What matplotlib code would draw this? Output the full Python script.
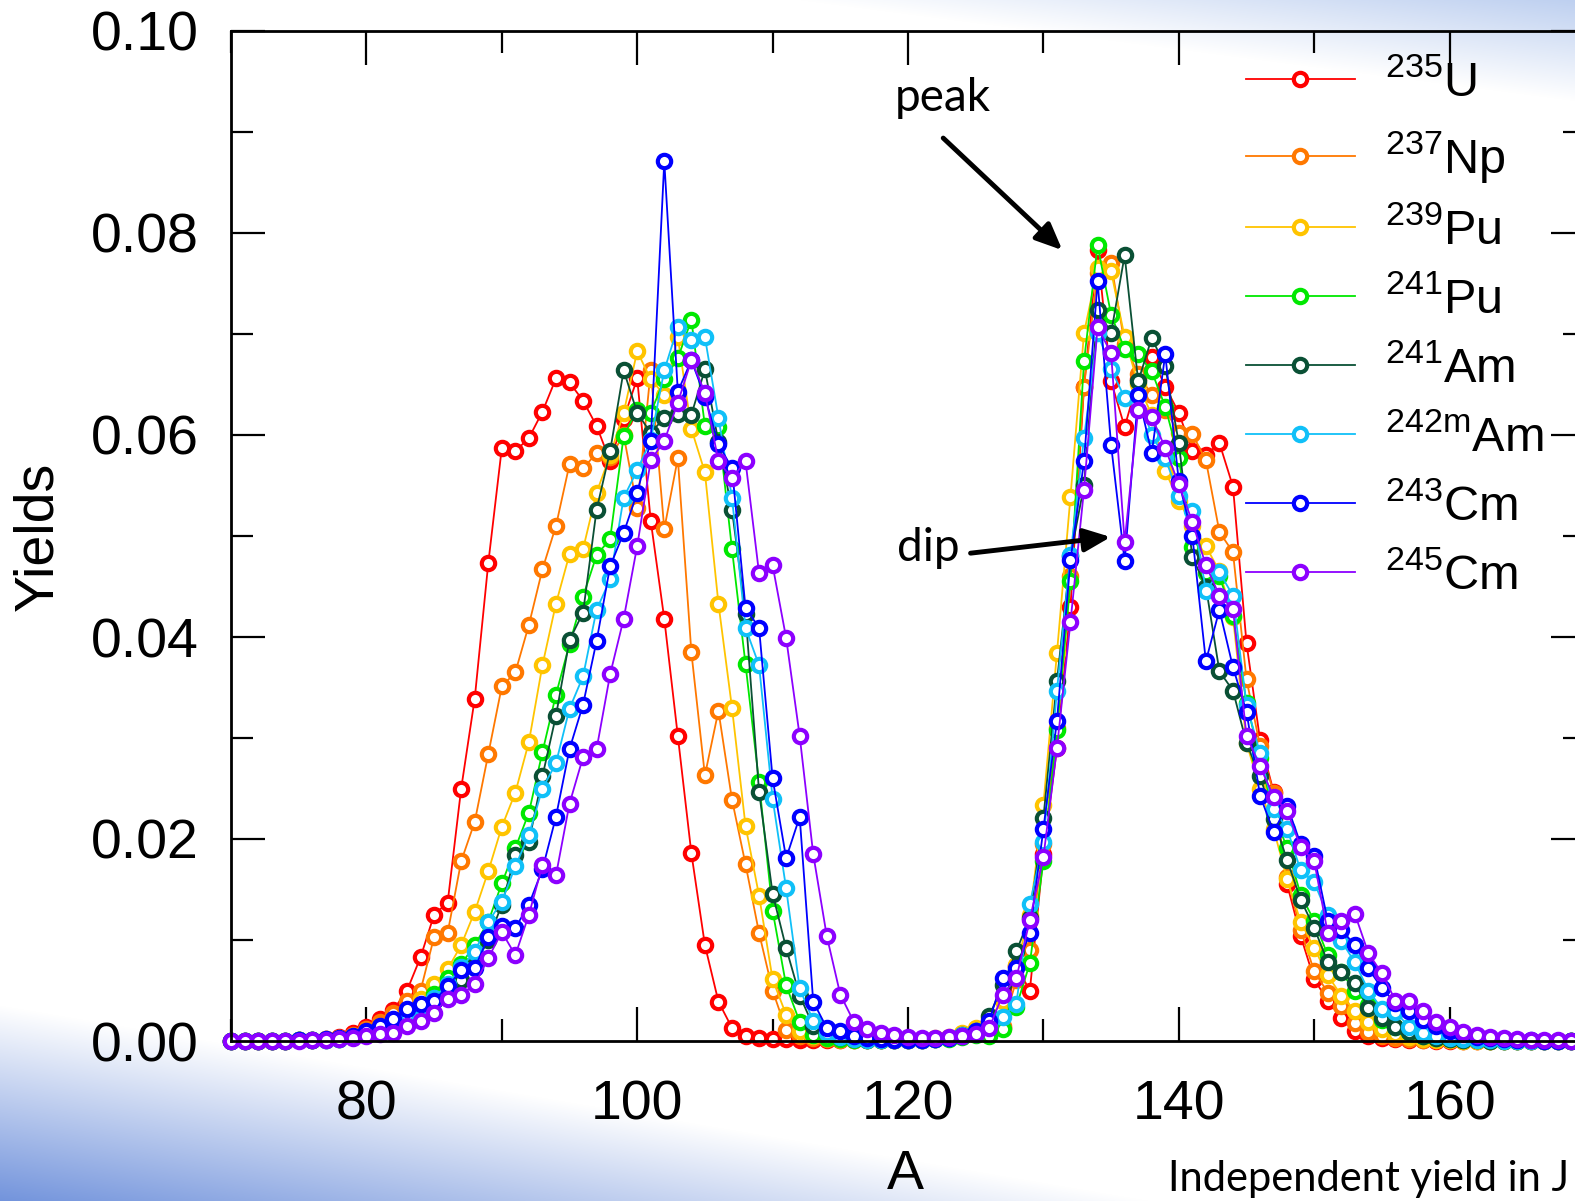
import numpy as np
import matplotlib
matplotlib.use("Agg")
import matplotlib.pyplot as plt
from matplotlib.ticker import MultipleLocator, FormatStrFormatter

plt.rcParams['font.family'] = ['Liberation Sans', 'DejaVu Sans']
plt.rcParams['mathtext.fontset'] = 'custom'
plt.rcParams['mathtext.rm'] = 'Liberation Sans'
plt.rcParams['mathtext.it'] = 'Liberation Sans:italic'
plt.rcParams['mathtext.bf'] = 'Liberation Sans:bold'

# ---------------- data ----------------
mass_number = list(range(70, 171))

u235 = [
    0.0000, 0.0000, 0.0000, 0.0000, 0.0000, 0.0001, 0.0001, 0.0002, 0.0004, 0.0008,
    0.0014, 0.0022, 0.0031, 0.0050, 0.0083, 0.0125, 0.0137, 0.0250, 0.0339, 0.0473,
    0.0587, 0.0584, 0.0597, 0.0623, 0.0656, 0.0652, 0.0634, 0.0609, 0.0574, 0.0616,
    0.0656, 0.0515, 0.0418, 0.0302, 0.0186, 0.0095, 0.0039, 0.0013, 0.0005, 0.0003,
    0.0002, 0.0002, 0.0001, 0.0001, 0.0001, 0.0001, 0.0001, 0.0001, 0.0001, 0.0001,
    0.0001, 0.0001, 0.0002, 0.0003, 0.0005, 0.0008, 0.0012, 0.0013, 0.0074, 0.0050,
    0.0185, 0.0290, 0.0430, 0.0648, 0.0783, 0.0653, 0.0608, 0.0655, 0.0677, 0.0648,
    0.0622, 0.0584, 0.0580, 0.0592, 0.0549, 0.0394, 0.0298, 0.0247, 0.0155, 0.0104,
    0.0061, 0.0040, 0.0023, 0.0010, 0.0005, 0.0003, 0.0002, 0.0001, 0.0001, 0.0000,
    0.0000, 0.0000, 0.0000, 0.0000, 0.0000, 0.0000, 0.0000, 0.0000, 0.0000, 0.0000,
    0.0000,
]

np237 = [
    0.0000, 0.0000, 0.0000, 0.0000, 0.0000, 0.0001, 0.0001, 0.0002, 0.0003, 0.0006,
    0.0012, 0.0019, 0.0028, 0.0040, 0.0050, 0.0103, 0.0107, 0.0178, 0.0217, 0.0284,
    0.0351, 0.0365, 0.0412, 0.0467, 0.0510, 0.0571, 0.0567, 0.0582, 0.0578, 0.0600,
    0.0528, 0.0664, 0.0507, 0.0577, 0.0385, 0.0263, 0.0327, 0.0239, 0.0175, 0.0107,
    0.0050, 0.0011, 0.0005, 0.0003, 0.0002, 0.0001, 0.0001, 0.0001, 0.0001, 0.0001,
    0.0001, 0.0001, 0.0002, 0.0003, 0.0005, 0.0007, 0.0010, 0.0015, 0.0060, 0.0090,
    0.0195, 0.0310, 0.0460, 0.0648, 0.0760, 0.0770, 0.0690, 0.0660, 0.0640, 0.0625,
    0.0602, 0.0601, 0.0575, 0.0504, 0.0484, 0.0358, 0.0292, 0.0246, 0.0162, 0.0110,
    0.0069, 0.0048, 0.0035, 0.0018, 0.0009, 0.0005, 0.0003, 0.0002, 0.0001, 0.0001,
    0.0001, 0.0000, 0.0000, 0.0000, 0.0000, 0.0000, 0.0000, 0.0000, 0.0000, 0.0000,
    0.0000,
]

pu239 = [
    0.0000, 0.0000, 0.0000, 0.0000, 0.0000, 0.0001, 0.0001, 0.0002, 0.0003, 0.0005,
    0.0009, 0.0014, 0.0020, 0.0030, 0.0042, 0.0056, 0.0071, 0.0095, 0.0128, 0.0168,
    0.0212, 0.0246, 0.0296, 0.0372, 0.0433, 0.0482, 0.0487, 0.0543, 0.0580, 0.0622,
    0.0683, 0.0655, 0.0640, 0.0697, 0.0606, 0.0563, 0.0433, 0.0330, 0.0213, 0.0144,
    0.0061, 0.0026, 0.0010, 0.0005, 0.0003, 0.0002, 0.0001, 0.0001, 0.0001, 0.0001,
    0.0001, 0.0002, 0.0003, 0.0004, 0.0008, 0.0013, 0.0022, 0.0040, 0.0075, 0.0125,
    0.0234, 0.0384, 0.0539, 0.0701, 0.0765, 0.0762, 0.0697, 0.0650, 0.0620, 0.0564,
    0.0535, 0.0510, 0.0490, 0.0465, 0.0420, 0.0295, 0.0250, 0.0210, 0.0160, 0.0118,
    0.0092, 0.0065, 0.0045, 0.0030, 0.0019, 0.0012, 0.0007, 0.0004, 0.0002, 0.0001,
    0.0001, 0.0000, 0.0000, 0.0000, 0.0000, 0.0000, 0.0000, 0.0000, 0.0000, 0.0000,
    0.0000,
]

pu241 = [
    0.0000, 0.0000, 0.0000, 0.0000, 0.0000, 0.0001, 0.0001, 0.0001, 0.0002, 0.0004,
    0.0008, 0.0013, 0.0019, 0.0027, 0.0036, 0.0047, 0.0062, 0.0076, 0.0095, 0.0118,
    0.0156, 0.0191, 0.0226, 0.0286, 0.0343, 0.0393, 0.0440, 0.0481, 0.0497, 0.0599,
    0.0625, 0.0622, 0.0655, 0.0676, 0.0714, 0.0609, 0.0608, 0.0487, 0.0373, 0.0256,
    0.0129, 0.0055, 0.0019, 0.0006, 0.0003, 0.0002, 0.0001, 0.0001, 0.0001, 0.0001,
    0.0001, 0.0001, 0.0002, 0.0002, 0.0004, 0.0006, 0.0005, 0.0012, 0.0034, 0.0077,
    0.0178, 0.0308, 0.0455, 0.0673, 0.0788, 0.0719, 0.0685, 0.0680, 0.0663, 0.0628,
    0.0577, 0.0489, 0.0463, 0.0460, 0.0421, 0.0335, 0.0280, 0.0226, 0.0191, 0.0145,
    0.0119, 0.0085, 0.0068, 0.0050, 0.0036, 0.0021, 0.0014, 0.0009, 0.0005, 0.0003,
    0.0002, 0.0001, 0.0001, 0.0000, 0.0000, 0.0000, 0.0000, 0.0000, 0.0000, 0.0000,
    0.0000,
]

am241 = [
    0.0000, 0.0000, 0.0000, 0.0000, 0.0000, 0.0001, 0.0001, 0.0001, 0.0002, 0.0004,
    0.0007, 0.0012, 0.0018, 0.0025, 0.0033, 0.0040, 0.0047, 0.0060, 0.0075, 0.0100,
    0.0135, 0.0184, 0.0197, 0.0262, 0.0322, 0.0397, 0.0424, 0.0526, 0.0584, 0.0664,
    0.0622, 0.0602, 0.0617, 0.0621, 0.0620, 0.0665, 0.0593, 0.0526, 0.0423, 0.0247,
    0.0146, 0.0092, 0.0045, 0.0015, 0.0008, 0.0004, 0.0002, 0.0001, 0.0001, 0.0001,
    0.0001, 0.0001, 0.0002, 0.0003, 0.0006, 0.0010, 0.0025, 0.0055, 0.0089, 0.0122,
    0.0221, 0.0356, 0.0480, 0.0550, 0.0724, 0.0701, 0.0778, 0.0653, 0.0696, 0.0668,
    0.0592, 0.0479, 0.0450, 0.0366, 0.0347, 0.0295, 0.0262, 0.0220, 0.0179, 0.0140,
    0.0112, 0.0078, 0.0068, 0.0057, 0.0033, 0.0023, 0.0014, 0.0009, 0.0005, 0.0003,
    0.0002, 0.0001, 0.0001, 0.0000, 0.0000, 0.0000, 0.0000, 0.0000, 0.0000, 0.0000,
    0.0000,
]

am242m = [
    0.0000, 0.0000, 0.0000, 0.0000, 0.0000, 0.0001, 0.0001, 0.0001, 0.0002, 0.0004,
    0.0008, 0.0013, 0.0019, 0.0026, 0.0034, 0.0043, 0.0056, 0.0073, 0.0088, 0.0118,
    0.0138, 0.0173, 0.0204, 0.0250, 0.0275, 0.0329, 0.0361, 0.0427, 0.0457, 0.0538,
    0.0565, 0.0595, 0.0664, 0.0707, 0.0694, 0.0697, 0.0617, 0.0538, 0.0409, 0.0372,
    0.0240, 0.0151, 0.0052, 0.0020, 0.0008, 0.0004, 0.0002, 0.0001, 0.0001, 0.0001,
    0.0001, 0.0001, 0.0002, 0.0003, 0.0006, 0.0010, 0.0015, 0.0024, 0.0037, 0.0136,
    0.0197, 0.0347, 0.0481, 0.0597, 0.0701, 0.0665, 0.0637, 0.0640, 0.0600, 0.0577,
    0.0540, 0.0525, 0.0446, 0.0464, 0.0441, 0.0333, 0.0285, 0.0230, 0.0210, 0.0169,
    0.0157, 0.0125, 0.0099, 0.0078, 0.0050, 0.0032, 0.0029, 0.0014, 0.0008, 0.0005,
    0.0003, 0.0002, 0.0001, 0.0001, 0.0000, 0.0000, 0.0000, 0.0000, 0.0000, 0.0000,
    0.0000,
]

cm243 = [
    0.0000, 0.0000, 0.0000, 0.0000, 0.0000, 0.0001, 0.0001, 0.0002, 0.0003, 0.0005,
    0.0010, 0.0015, 0.0022, 0.0032, 0.0037, 0.0040, 0.0054, 0.0070, 0.0072, 0.0103,
    0.0114, 0.0112, 0.0135, 0.0170, 0.0222, 0.0289, 0.0333, 0.0396, 0.0470, 0.0503,
    0.0543, 0.0594, 0.0871, 0.0643, 0.0674, 0.0638, 0.0591, 0.0567, 0.0429, 0.0409,
    0.0260, 0.0181, 0.0222, 0.0039, 0.0013, 0.0010, 0.0005, 0.0003, 0.0002, 0.0001,
    0.0001, 0.0001, 0.0002, 0.0003, 0.0005, 0.0010, 0.0020, 0.0062, 0.0072, 0.0107,
    0.0210, 0.0317, 0.0476, 0.0574, 0.0752, 0.0590, 0.0475, 0.0640, 0.0582, 0.0680,
    0.0554, 0.0500, 0.0376, 0.0427, 0.0370, 0.0326, 0.0243, 0.0207, 0.0233, 0.0195,
    0.0183, 0.0119, 0.0110, 0.0095, 0.0072, 0.0052, 0.0038, 0.0030, 0.0021, 0.0015,
    0.0010, 0.0007, 0.0004, 0.0003, 0.0002, 0.0001, 0.0001, 0.0000, 0.0000, 0.0000,
    0.0000,
]

cm245 = [
    0.0000, 0.0000, 0.0000, 0.0000, 0.0000, 0.0000, 0.0001, 0.0001, 0.0002, 0.0003,
    0.0005, 0.0007, 0.0008, 0.0015, 0.0020, 0.0028, 0.0042, 0.0046, 0.0056, 0.0082,
    0.0108, 0.0085, 0.0125, 0.0174, 0.0164, 0.0235, 0.0281, 0.0289, 0.0363, 0.0418,
    0.0490, 0.0575, 0.0594, 0.0632, 0.0674, 0.0642, 0.0574, 0.0557, 0.0574, 0.0463,
    0.0471, 0.0399, 0.0302, 0.0185, 0.0104, 0.0046, 0.0019, 0.0012, 0.0008, 0.0006,
    0.0004, 0.0003, 0.0003, 0.0004, 0.0005, 0.0007, 0.0013, 0.0046, 0.0062, 0.0120,
    0.0182, 0.0290, 0.0415, 0.0546, 0.0707, 0.0681, 0.0494, 0.0625, 0.0618, 0.0587,
    0.0551, 0.0514, 0.0471, 0.0441, 0.0428, 0.0302, 0.0272, 0.0242, 0.0228, 0.0192,
    0.0178, 0.0107, 0.0119, 0.0126, 0.0087, 0.0067, 0.0040, 0.0040, 0.0030, 0.0019,
    0.0014, 0.0009, 0.0006, 0.0004, 0.0003, 0.0002, 0.0001, 0.0001, 0.0001, 0.0000,
    0.0000,
]

labels = [r'$\mathregular{^{235}}$U', r'$\mathregular{^{237}}$Np',
          r'$\mathregular{^{239}}$Pu', r'$\mathregular{^{241}}$Pu',
          r'$\mathregular{^{241}}$Am', r'$\mathregular{^{242m}}$Am',
          r'$\mathregular{^{243}}$Cm', r'$\mathregular{^{245}}$Cm']
colors = ['#ff0000', '#ff7800', '#ffc400', '#00e800',
          '#0a5035', '#10c0f8', '#0000ff', '#8c00ff']
series = [u235, np237, pu239, pu241, am241, am242m, cm243, cm245]

x_major = [80, 100, 120, 140, 160]

# ---------------- figure ----------------
W, H = 1575, 1201
fig = plt.figure(figsize=(W / 100, H / 100), dpi=100)

# slide-like gradient background
yy, xx = np.mgrid[0:H, 0:W].astype(float)
t1 = np.clip((yy - 1005 - 0.17 * xx) / 195.0, 0, 1)
D = np.clip((xx - 800) * 0.13, 1e-6, None)
t2 = np.clip(1 - yy / D, 0, 1) * np.clip((xx - 800) / 775.0, 0, 1)
c1 = np.array([115, 148, 220]) / 255.0
c2 = np.array([190, 208, 240]) / 255.0
img = np.ones((H, W, 3)) - t1[..., None] * (1 - c1) - t2[..., None] * (1 - c2)
img = np.clip(img, 0, 1)
bg = fig.add_axes([0, 0, 1, 1], zorder=0)
bg.imshow(img, extent=[0, W, H, 0], aspect='auto', interpolation='bilinear')
bg.set_xlim(0, W)
bg.set_ylim(H, 0)
bg.axis('off')

ax = fig.add_axes([231 / W, 1 - 1041 / H, (1585 - 231) / W, (1041 - 31) / H], zorder=1)
ax.set_facecolor('none')

for vals, lab, col in zip(series, labels, colors):
    ax.plot(mass_number, vals, '-o', color=col, lw=1.3, ms=9.6, mew=3.0,
            mfc='white', mec=col, label=lab, clip_on=False)

ax.set_xlim(70, 170)
ax.set_ylim(0, 0.10)
ax.set_xticks(x_major)
ax.xaxis.set_minor_locator(MultipleLocator(10))
ax.yaxis.set_major_locator(MultipleLocator(0.02))
ax.yaxis.set_minor_locator(MultipleLocator(0.01))
ax.yaxis.set_major_formatter(FormatStrFormatter('%.2f'))

ax.tick_params(which='both', direction='in', top=True, right=True, width=1.6,
               labelsize=40)
ax.tick_params(which='major', length=24.5)
ax.tick_params(which='minor', length=16)
ax.tick_params(axis='y', pad=23)
ax.tick_params(axis='x', pad=28)
for s in ax.spines.values():
    s.set_linewidth(2.0)

ax.set_ylabel('Yields', fontsize=40)
ax.yaxis.set_label_coords(-0.1425, 0.5)
ax.yaxis.label.set_va('center')
ax.set_xlabel('A', fontsize=40)
ax.xaxis.set_label_coords(0.4978, -0.1327)
ax.xaxis.label.set_va('center')

leg = ax.legend(loc='upper left', bbox_to_anchor=(1246 / W, 1 - 60 / H),
                bbox_transform=fig.transFigure, frameon=False, fontsize=35,
                handlelength=2.24, handletextpad=0.62, labelspacing=0.473,
                borderpad=0, borderaxespad=0)

# annotations
ax.text(122.6, 0.0934, 'peak', ha='center', va='center', fontsize=33, family='Lato')
ax.annotate('', xy=(131.4, 0.0783), xytext=(122.6, 0.0894),
            arrowprops=dict(arrowstyle='-|>,head_length=0.8,head_width=0.35',
                            lw=3.5, color='black', mutation_scale=20,
                            shrinkA=0, shrinkB=0))
ax.text(121.5, 0.0488, 'dip', ha='center', va='center', fontsize=33, family='Lato')
ax.annotate('', xy=(134.97, 0.0499), xytext=(124.62, 0.0483),
            arrowprops=dict(arrowstyle='-|>,head_length=0.8,head_width=0.35',
                            lw=3.5, color='black', mutation_scale=20,
                            shrinkA=0, shrinkB=0))

fig.text(1168 / W, 1 - 1191 / H, 'Independent yield in J',
         fontsize=30, family='Lato', ha='left', va='baseline')

fig.savefig('out.png', dpi=100)
